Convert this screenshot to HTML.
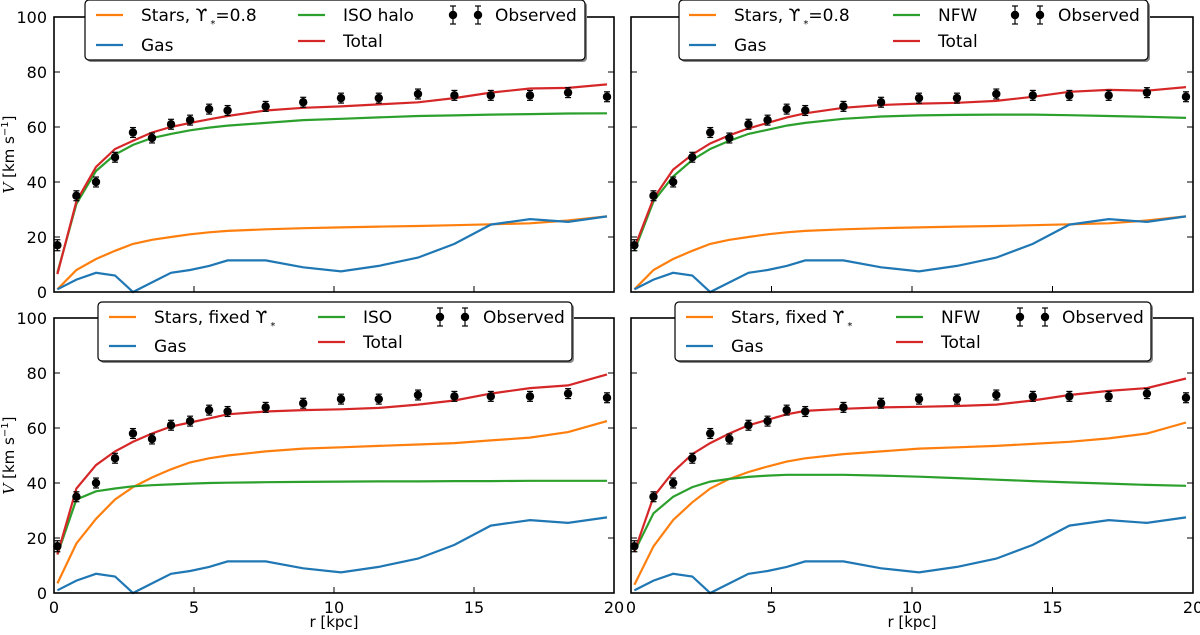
<!DOCTYPE html>
<html><head><meta charset="utf-8"><style>
body{margin:0;background:#fff;}
svg{display:block;font-family:"DejaVu Sans","Liberation Sans",sans-serif;}
</style></head><body>
<svg id="fig" width="1200" height="635" viewBox="0 0 1200 635"></svg>
<script>
const radius=[0.12,0.8,1.5,2.18,2.82,3.5,4.18,4.86,5.54,6.2,7.56,8.9,10.25,11.6,13.0,14.3,15.6,17.0,18.36,19.75];
const observed=[17,35,40,49,58,56,61,62.5,66.5,66,67.5,69,70.5,70.5,72,71.5,71.5,71.5,72.5,71];
const obsErr=[2,1.8,1.8,1.8,1.8,1.8,1.8,1.8,1.8,1.8,1.8,1.8,1.8,1.8,1.8,1.8,1.8,1.8,1.8,1.8];
const gas=[1,4.5,7,6,0,3.5,7,8,9.5,11.5,11.5,9,7.5,9.5,12.5,17.5,24.5,26.5,25.5,27.5];
const stars08=[1,8,12,15,17.5,19,20,21,21.7,22.2,22.8,23.2,23.5,23.8,24,24.3,24.6,25,26,27.5];
const isoHalo=[7,32,44,50,53.5,56,57.5,58.8,59.8,60.5,61.5,62.5,63,63.5,64,64.2,64.5,64.7,64.9,65];
const totalTL=[6.5,33,45.5,52,55,58,60,61.5,62.8,64,66,67,67.5,68.2,69,70.5,72.5,74,74.2,75.5];
const nfwTR=[15,33,42,48,52,55,57.5,59,60.5,61.5,63,63.8,64.2,64.4,64.5,64.5,64.3,64,63.7,63.3];
const totalTR=[16,34,44.5,50,54,57,59.5,61.5,63.5,65,67,68,68.5,68.8,69.5,71,72.8,73.5,73.2,74.5];
const starsFixBL=[3.5,18,27,34,38.5,42,45,47.5,49,50,51.5,52.5,53,53.5,54,54.5,55.5,56.5,58.5,62.5];
const isoBL=[14,34,37,38,38.8,39.2,39.5,39.8,40,40.1,40.3,40.4,40.5,40.6,40.6,40.7,40.7,40.8,40.8,40.8];
const totalBL=[14,38,46.5,51.5,55,58,60.5,62,63.5,65,66,66.5,66.8,67.3,68.5,70,72.5,74.5,75.5,79.5];
const starsFixBR=[3,17,26.5,33,38,41.5,44,46,47.8,49,50.5,51.5,52.5,53,53.5,54.2,55,56.2,58,62];
const nfwBR=[15,29,35,38.5,40.5,41.5,42.2,42.7,43,43,43,42.7,42.3,41.8,41.2,40.7,40.2,39.8,39.3,39];
const totalBR=[15,35,44,50.5,54.5,58,61,63,65,66.2,67,67.5,67.7,68,68.5,70,72,73.5,74.5,78];
const yTicks=[0,20,40,60,80,100];
const xTicks=[0,5,10,15,20];

const C={o:'#ff7f0e',b:'#1f77b4',g:'#2ca02c',r:'#d62728'};
const NS='http://www.w3.org/2000/svg';
const svg=document.getElementById('fig');
function mk(tag,attrs,parent){const e=document.createElementNS(NS,tag);for(const k in attrs)e.setAttribute(k,attrs[k]);(parent||svg).appendChild(e);return e;}

const panels=[
 {id:'top-left',x0:54,x1:614,y0:17,y1:292,comps:[[stars08,C.o],[gas,C.b],[isoHalo,C.g],[totalTL,C.r]],
  leg:{x:85,y:0,w:500,h:60,r1:15,r2:43,c1:11,c2:213,eb:368,ot:410,labels:['Stars, ϒ','=0.8','Gas','ISO halo','Total']},yl:true,xl:false},
 {id:'top-right',x0:631,x1:1193,y0:17,y1:292,comps:[[stars08,C.o],[gas,C.b],[nfwTR,C.g],[totalTR,C.r]],
  leg:{x:679,y:0,w:469,h:60,r1:15,r2:43,c1:10,c2:214,eb:336,ot:379,labels:['Stars, ϒ','=0.8','Gas','NFW','Total']},yl:false,xl:false},
 {id:'bottom-left',x0:54,x1:614,y0:318,y1:593,comps:[[starsFixBL,C.o],[gas,C.b],[isoBL,C.g],[totalBL,C.r]],
  leg:{x:98,y:302,w:474,h:59,r1:317,r2:344,c1:11,c2:220,eb:342,ot:385,labels:['Stars, fixed ϒ','','Gas','ISO','Total']},yl:true,xl:true},
 {id:'bottom-right',x0:631,x1:1193,y0:318,y1:593,comps:[[starsFixBR,C.o],[gas,C.b],[nfwBR,C.g],[totalBR,C.r]],
  leg:{x:675,y:302,w:476,h:59,r1:317,r2:344,c1:11,c2:221,eb:345,ot:387,labels:['Stars, fixed ϒ','','Gas','NFW','Total']},yl:false,xl:true}
];
const names=['stars','gas','halo','total'];
panels.forEach(p=>{
 const g=mk('g',{});
 
 
 const sx=v=>p.x0+(v/20)*(p.x1-p.x0);
 const sy=v=>p.y1-(v/100)*(p.y1-p.y0);
 yTicks.forEach(t=>{
  mk('line',{x1:p.x0,x2:p.x0+6,y1:sy(t),y2:sy(t),stroke:'#000','stroke-width':1},g);
  mk('line',{x1:p.x1,x2:p.x1-6,y1:sy(t),y2:sy(t),stroke:'#000','stroke-width':1},g);
  if(p.yl){const tx=mk('text',{x:p.x0-7,y:sy(t)+6,'text-anchor':'end','font-size':16},g);tx.textContent=t;
   }
 });
 xTicks.forEach(t=>{
  mk('line',{x1:sx(t),x2:sx(t),y1:p.y1,y2:p.y1-6,stroke:'#000','stroke-width':1},g);
  mk('line',{x1:sx(t),x2:sx(t),y1:p.y0,y2:p.y0+6,stroke:'#000','stroke-width':1},g);
  if(p.xl){const tx=mk('text',{x:sx(t),y:p.y1+20,'text-anchor':'middle','font-size':16},g);tx.textContent=t;
   }
 });
 p.comps.forEach((c,i)=>{
  const d=radius.map((r,k)=>(k?'L':'M')+sx(r).toFixed(1)+' '+sy(c[0][k]).toFixed(1)).join(' ');
  const pl=mk('path',{d:d,fill:'none',stroke:c[1],'stroke-width':2.2},g);
  
  
 });
 radius.forEach((r,k)=>{
  const x=sx(r),y=sy(observed[k]),e=obsErr[k]/100*(p.y1-p.y0);
  mk('line',{x1:x,x2:x,y1:y-e,y2:y+e,stroke:'#000','stroke-width':1.2},g);
  mk('line',{x1:x-3,x2:x+3,y1:y-e,y2:y-e,stroke:'#000','stroke-width':1.2},g);
  mk('line',{x1:x-3,x2:x+3,y1:y+e,y2:y+e,stroke:'#000','stroke-width':1.2},g);
  const c=mk('circle',{cx:x,cy:y,r:4.2,fill:'#000'},g);
  
  
 });
 const fr=mk('rect',{x:p.x0,y:p.y0,width:p.x1-p.x0,height:p.y1-p.y0,fill:'none',stroke:'#000','stroke-width':1.6},g);
 
 
 const L=p.leg;
 const lg=mk('g',{},g);
 
 
 mk('rect',{x:L.x+2,y:L.y+2,width:L.w,height:L.h,rx:4,fill:'#888'},lg);
 mk('rect',{x:L.x,y:L.y,width:L.w,height:L.h,rx:4,fill:'#fff',stroke:'#000','stroke-width':1.2},lg);
 const item=(cx,cy,col,lab,sub,suf,nm)=>{
  mk('line',{x1:L.x+cx,x2:L.x+cx+27,y1:cy,y2:cy,stroke:col,'stroke-width':2.2},lg);
  const t=mk('text',{x:L.x+cx+45,y:cy+6,'font-size':17},lg);
  
  
  t.textContent=lab;
  if(sub){const ts=mk('tspan',{'font-size':10,dy:6,dx:3},t);ts.textContent='*';const t2=mk('tspan',{dy:-6},t);t2.textContent=suf;}
 };
 item(L.c1,L.r1,C.o,L.labels[0],true,L.labels[1],'legend-stars');
 item(L.c1,L.r2+2,C.b,L.labels[2],false,'','legend-gas');
 item(L.c2,L.r1,C.g,L.labels[3],false,'','legend-halo');
 item(L.c2,L.r2-2,C.r,L.labels[4],false,'','legend-total');
 [L.eb,L.eb+25].forEach(ex=>{
  mk('line',{x1:L.x+ex,x2:L.x+ex,y1:L.r1-9,y2:L.r1+9,stroke:'#000','stroke-width':1.2},lg);
  mk('line',{x1:L.x+ex-3,x2:L.x+ex+3,y1:L.r1-9,y2:L.r1-9,stroke:'#000','stroke-width':1.2},lg);
  mk('line',{x1:L.x+ex-3,x2:L.x+ex+3,y1:L.r1+9,y2:L.r1+9,stroke:'#000','stroke-width':1.2},lg);
  mk('circle',{cx:L.x+ex,cy:L.r1,r:4.2,fill:'#000'},lg);
 });
 const ot=mk('text',{x:L.x+L.ot,y:L.r1+6,'font-size':17},lg);
 
 
 ot.textContent='Observed';
 if(p.yl){
  const cy=(p.y0+p.y1)/2;
  const yl=mk('text',{x:14,y:cy,'font-size':15,'text-anchor':'middle',transform:`rotate(-90 14 ${cy})`},g);
  
  
  yl.innerHTML='<tspan font-style="italic" font-family="DejaVu Serif">V</tspan> [km s<tspan font-size="10" dy="-6">−1</tspan><tspan dy="6">]</tspan>';
 }
 if(p.xl){
  const xl=mk('text',{x:(p.x0+p.x1)/2,y:627,'font-size':15,'text-anchor':'middle'},g);
  
  
  xl.textContent='r [kpc]';
 }
});
</script>
</body></html>
